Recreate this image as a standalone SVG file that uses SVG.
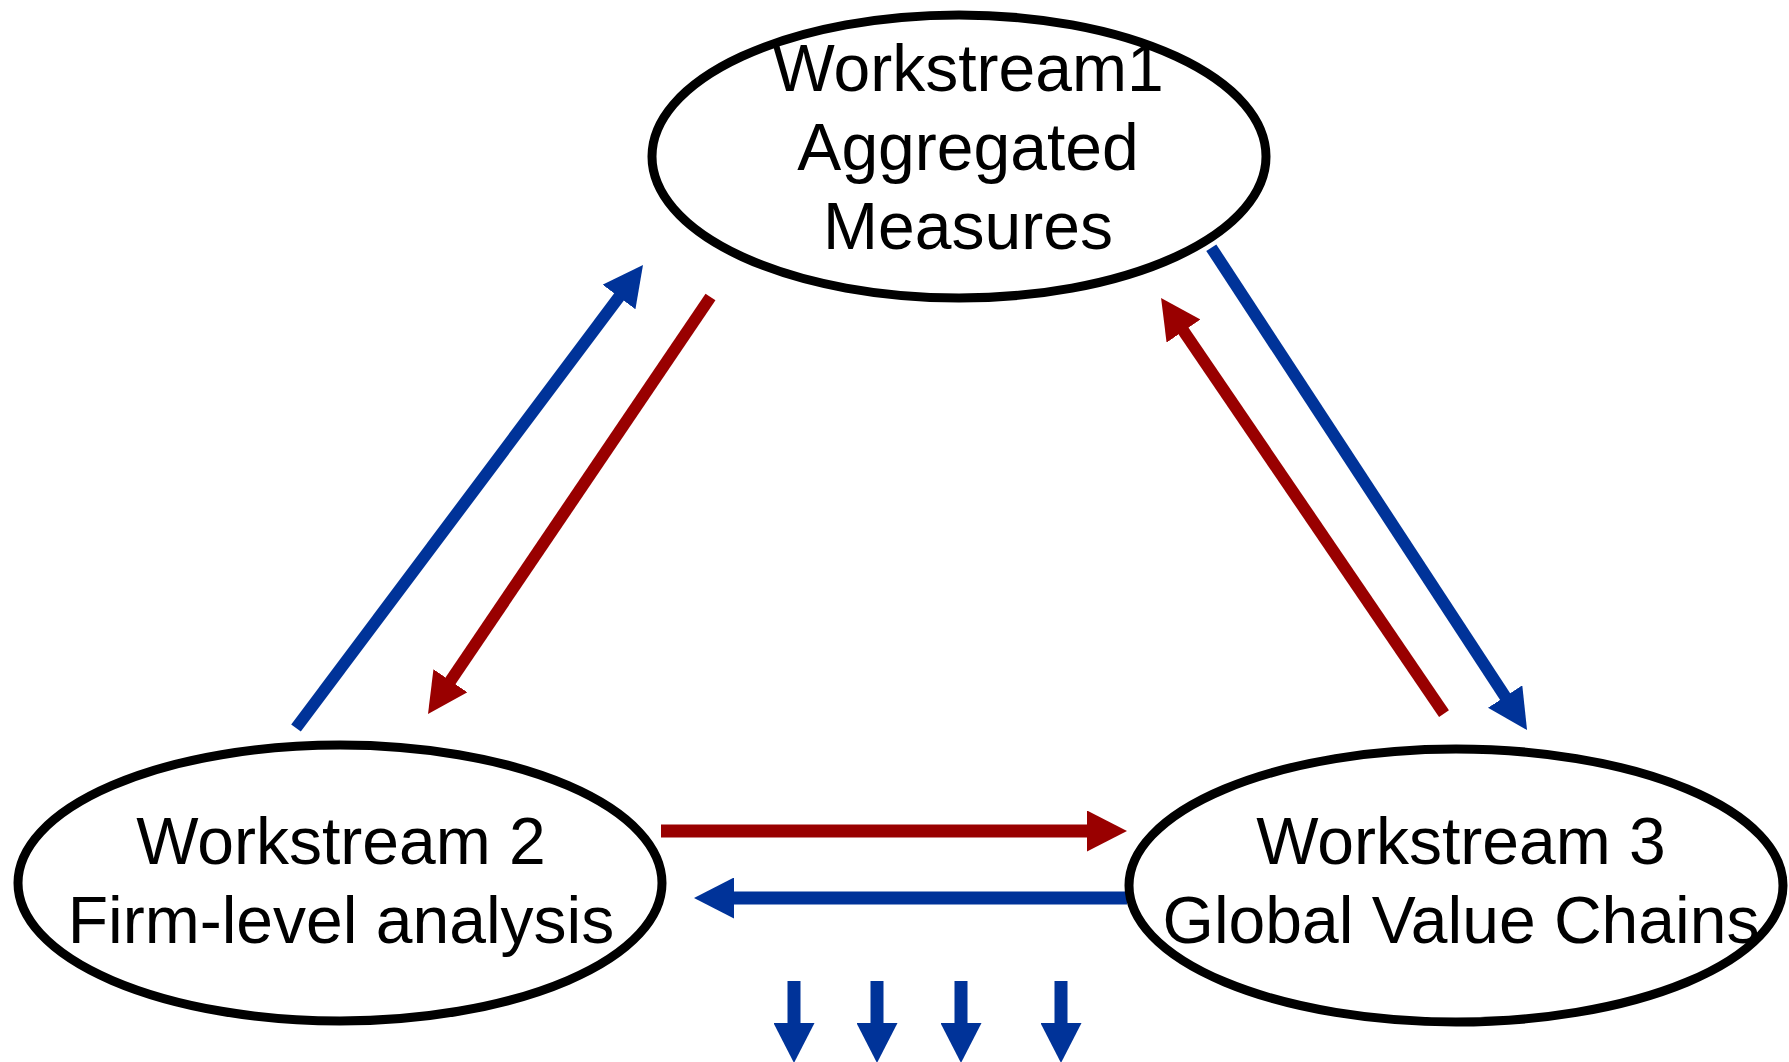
<svg xmlns="http://www.w3.org/2000/svg" width="1789" height="1062" viewBox="0 0 1789 1062">
<style>
.node ellipse{fill:#fff;stroke:#000;stroke-width:9}
.node text{font-family:"Liberation Sans",Arial,sans-serif;font-size:66px;fill:#000;text-anchor:middle}
.blue{stroke:#003399;stroke-width:12;fill:none;marker-end:url(#ab)}
.red{stroke:#990000;stroke-width:12;fill:none;marker-end:url(#ar)}
.h{stroke-width:13}
</style>
<defs>
<marker id="ab" markerUnits="userSpaceOnUse" markerWidth="40" markerHeight="41" refX="12" refY="20.5" orient="auto" viewBox="0 0 40 41"><path d="M0,0 L40,20.5 L0,41 z" fill="#003399"/></marker>
<marker id="ar" markerUnits="userSpaceOnUse" markerWidth="40" markerHeight="41" refX="12" refY="20.5" orient="auto" viewBox="0 0 40 41"><path d="M0,0 L40,20.5 L0,41 z" fill="#990000"/></marker>
</defs>
<rect width="1789" height="1062" fill="#fff"/>
<g id="connectors">
<line class="blue" x1="296" y1="728" x2="626.2" y2="287.4"/>
<line class="red" x1="710.5" y1="297" x2="443.7" y2="690.8"/>
<line class="blue" x1="1211.3" y1="247.7" x2="1511.7" y2="706.6"/>
<line class="red" x1="1444" y1="713.7" x2="1176.8" y2="321.1"/>
<line class="red h" x1="661" y1="831" x2="1099" y2="831"/>
<line class="blue h" x1="1127" y1="898" x2="722" y2="898"/>
<line class="blue h" x1="794" y1="981" x2="794" y2="1035"/>
<line class="blue h" x1="877" y1="981" x2="877" y2="1035"/>
<line class="blue h" x1="961" y1="981" x2="961" y2="1035"/>
<line class="blue h" x1="1061" y1="981" x2="1061" y2="1035"/>
</g>
<g id="ws1" class="node">
<ellipse cx="959" cy="156.5" rx="307" ry="141.5"/>
<text x="968" y="91">Workstream1</text>
<text x="968" y="170">Aggregated</text>
<text x="968" y="249">Measures</text>
</g>
<g id="ws2" class="node">
<ellipse cx="340" cy="883" rx="322" ry="138"/>
<text x="341" y="864">Workstream 2</text>
<text x="341" y="943">Firm-level analysis</text>
</g>
<g id="ws3" class="node">
<ellipse cx="1456" cy="885.5" rx="327" ry="136.5"/>
<text x="1461" y="864">Workstream 3</text>
<text x="1461" y="943">Global Value Chains</text>
</g>
</svg>
